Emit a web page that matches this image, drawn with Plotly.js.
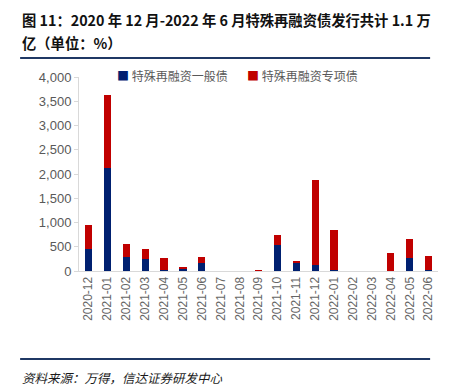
<!DOCTYPE html>
<html><head><meta charset="utf-8">
<script src="https://cdn.plot.ly/plotly-3.0.1.min.js"></script>
<style>html,body{margin:0;padding:0;background:#fff;}#c{width:449px;height:386px;}</style>
</head><body><div id="c"></div>
<script>
const categories = ["2020-12","2021-01","2021-02","2021-03","2021-04","2021-05","2021-06","2021-07","2021-08","2021-09","2021-10","2021-11","2021-12","2022-01","2022-02","2022-03","2022-04","2022-05","2022-06"];
const generalBond = [450,2120,290,240,15,40,165,0,0,0,530,160,130,30,0,0,0,260,30];
const specialBond = [500,1500,270,210,250,45,130,0,0,30,220,45,1750,820,0,0,375,395,280];
const seriesNames = ["特殊再融资一般债","特殊再融资专项债"];
const seriesColors = ["#002070","#C00000"];
const yTicks = [0,500,1000,1500,2000,2500,3000,3500,4000];
const titleLine1 = "图 11：2020 年 12 月-2022 年 6 月特殊再融资债发行共计 1.1 万";
const titleLine2 = "亿（单位：%）";
const sourceText = "资料来源：万得，信达证券研发中心";

const font = "Noto Sans CJK SC, Noto Sans, sans-serif";
const traces = seriesNames.map((n,i)=>({type:"bar", name:n, x:categories, y:[generalBond,specialBond][i], marker:{color:seriesColors[i]}}));
const lx = -0.164;
const layout = {
  width:449, height:386,
  margin:{l:79, r:11, t:77, b:115},
  barmode:"stack", bargap:0.62,
  paper_bgcolor:"#fff", plot_bgcolor:"#fff",
  font:{family:font, color:"#595959", size:11},
  showlegend:false,
  xaxis:{type:"category", tickangle:-90, showline:true, linecolor:"#d9d9d9", linewidth:1,
         ticks:"", tickfont:{size:12, color:"#666666", family:"Liberation Sans, Arial"}, showgrid:false, fixedrange:true},
  yaxis:{range:[0,4000], tickvals:yTicks, ticktext:yTicks.map(v=>v.toLocaleString("en-US")),
         showline:true, linecolor:"#d9d9d9", linewidth:1, ticks:"outside", ticklen:4, tickcolor:"#d9d9d9",
         showgrid:false, zeroline:false, tickfont:{size:13, color:"#595959", family:"Liberation Sans, Arial"}, fixedrange:true},
  annotations:[
    {xref:"paper", yref:"paper", x:lx, y:1.294, xanchor:"left", yanchor:"middle", align:"left", showarrow:false,
     text:"<b>"+titleLine1+"</b>", font:{size:14.3, color:"#111111", family:font}},
    {xref:"paper", yref:"paper", x:lx, y:1.180, xanchor:"left", yanchor:"middle", align:"left", showarrow:false,
     text:"<b>"+titleLine2+"</b>", font:{size:14.3, color:"#111111", family:font}},
    {xref:"paper", yref:"paper", x:lx, y:-0.5515, xanchor:"left", yanchor:"middle", align:"left", showarrow:false,
     text:"<i>"+sourceText+"</i>", font:{size:12.5, color:"#1a1a1a", family:font}},
    {xref:"paper", yref:"paper", x:0.100, y:1.01, xanchor:"left", yanchor:"middle", showarrow:false,
     text:"<span style='color:"+seriesColors[0]+"'>■</span> "+seriesNames[0], font:{size:12, color:"#595959", family:font}},
    {xref:"paper", yref:"paper", x:0.462, y:1.01, xanchor:"left", yanchor:"middle", showarrow:false,
     text:"<span style='color:"+seriesColors[1]+"'>■</span> "+seriesNames[1], font:{size:12, color:"#595959", family:font}}
  ],
  shapes:[
    {type:"line", xref:"paper", yref:"paper", x0:lx, x1:0.978, y0:1.098, y1:1.098, line:{color:"#1F3864", width:2}},
    {type:"line", xref:"paper", yref:"paper", x0:lx, x1:0.978, y0:-0.4536, y1:-0.4536, line:{color:"#1F3864", width:2}}
  ]
};
Plotly.newPlot("c", traces, layout, {displayModeBar:false, staticPlot:true});
</script></body></html>
